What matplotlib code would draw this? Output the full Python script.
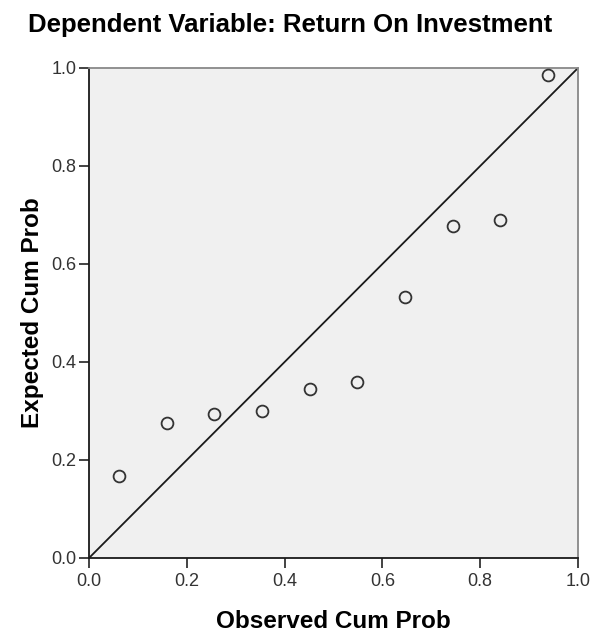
import matplotlib
matplotlib.use("Agg")
import matplotlib.pyplot as plt

observed = [0.061, 0.159, 0.256, 0.354, 0.451, 0.549, 0.646, 0.744, 0.841, 0.939]
expected = [0.168, 0.275, 0.294, 0.300, 0.345, 0.359, 0.533, 0.677, 0.689, 0.986]
ticks = [0.0, 0.2, 0.4, 0.6, 0.8, 1.0]
tick_labels = ["0.0", "0.2", "0.4", "0.6", "0.8", "1.0"]

plt.rcParams['font.family'] = ['Liberation Sans', 'DejaVu Sans']

fig = plt.figure(figsize=(5.9, 6.38), dpi=100)
ax = fig.add_axes([89/590, 1 - 558/638, 489/590, 490/638])
ax.set_facecolor('#F0F0F0')

ax.plot([0, 1], [0, 1], color='#1a1a1a', lw=1.3, zorder=2)
ax.plot(observed, expected, linestyle='none', marker='o', markersize=8.5,
        markerfacecolor='none', markeredgecolor='#333333', markeredgewidth=1.3, zorder=3)

ax.set_xlim(0, 1)
ax.set_ylim(0, 1)
ax.set_xticks(ticks)
ax.set_xticklabels(tick_labels)
ax.set_yticks(ticks)
ax.set_yticklabels(tick_labels)
ax.tick_params(direction='out', length=7, width=1.2, color='#222222',
               labelsize=13, labelcolor='#333333')
ax.tick_params(axis='x', pad=4)
ax.tick_params(axis='y', pad=2)

for side in ['left', 'bottom']:
    ax.spines[side].set_color('#1a1a1a')
    ax.spines[side].set_linewidth(1.3)
for side in ['top', 'right']:
    ax.spines[side].set_color('#888888')
    ax.spines[side].set_linewidth(1.3)

fig.text(333/590, 1 - 622/638, 'Observed Cum Prob', fontsize=17.5,
         fontweight='bold', ha='center', va='center')
fig.text(33/590, 1 - 313/638, 'Expected Cum Prob', fontsize=17.5,
         fontweight='bold', ha='center', va='center', rotation=90)

fig.text(290/590, 1 - 25/638, 'Dependent Variable: Return On Investment',
         fontsize=18.5, fontweight='bold', ha='center', va='center')

fig.savefig('out.png', dpi=100)
